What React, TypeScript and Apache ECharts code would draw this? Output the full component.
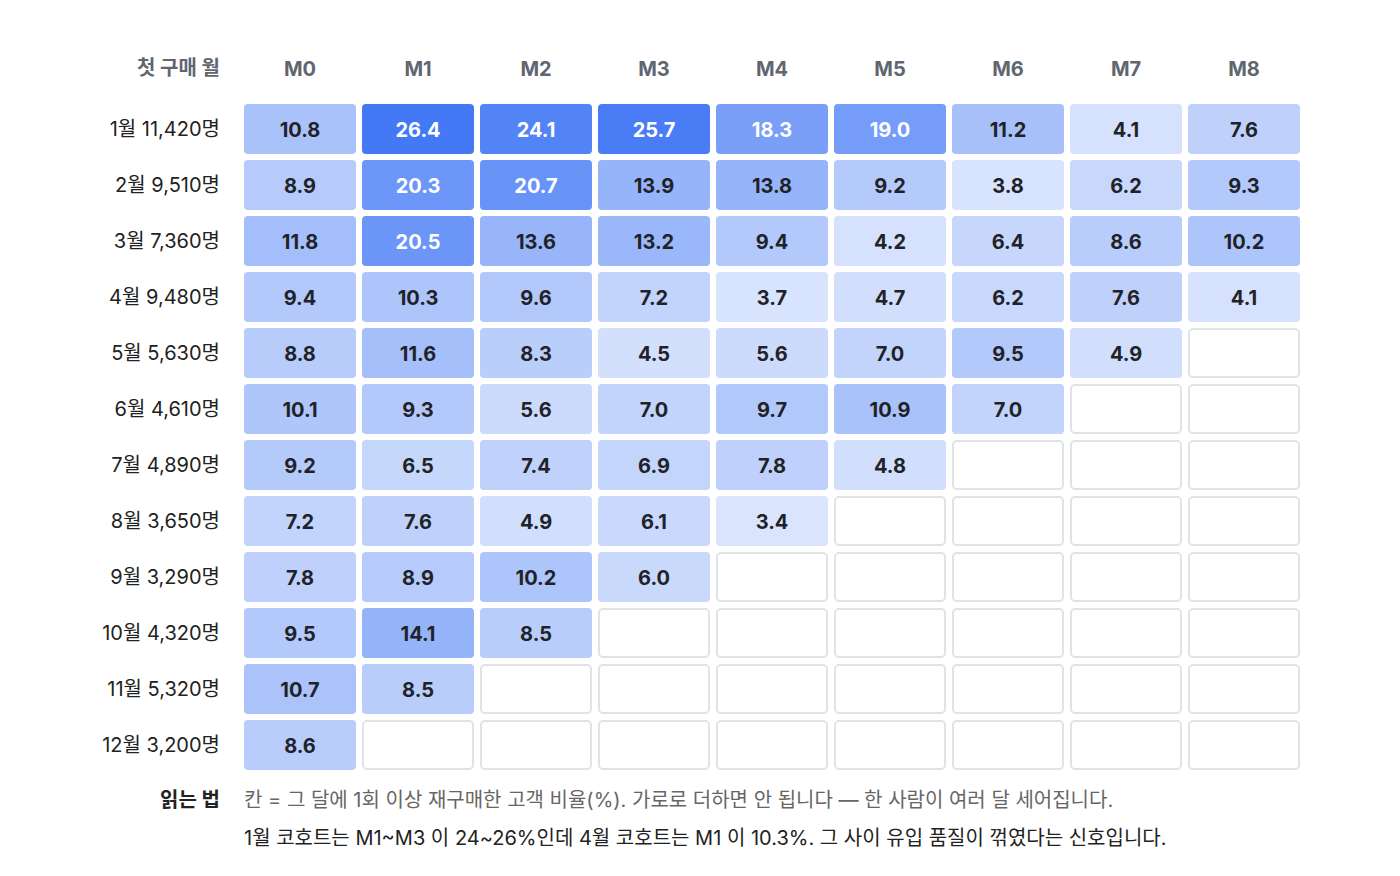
import React, { useEffect, useRef } from "react";
import * as echarts from "echarts";

const months = ["M0", "M1", "M2", "M3", "M4", "M5", "M6", "M7", "M8"];

const cohorts = ["1월", "2월", "3월", "4월", "5월", "6월", "7월", "8월", "9월", "10월", "11월", "12월"];
const cohortSizes = [11420, 9510, 7360, 9480, 5630, 4610, 4890, 3650, 3290, 4320, 5320, 3200];

// retention % per cohort, M0..M8 (shorter rows = months not yet observed)
const retention = [
  [10.8, 26.4, 24.1, 25.7, 18.3, 19.0, 11.2, 4.1, 7.6],
  [8.9, 20.3, 20.7, 13.9, 13.8, 9.2, 3.8, 6.2, 9.3],
  [11.8, 20.5, 13.6, 13.2, 9.4, 4.2, 6.4, 8.6, 10.2],
  [9.4, 10.3, 9.6, 7.2, 3.7, 4.7, 6.2, 7.6, 4.1],
  [8.8, 11.6, 8.3, 4.5, 5.6, 7.0, 9.5, 4.9],
  [10.1, 9.3, 5.6, 7.0, 9.7, 10.9, 7.0],
  [9.2, 6.5, 7.4, 6.9, 7.8, 4.8],
  [7.2, 7.6, 4.9, 6.1, 3.4],
  [7.8, 8.9, 10.2, 6.0],
  [9.5, 14.1, 8.5],
  [10.7, 8.5],
  [8.6],
];

const FONT = "Inter, 'Noto Sans CJK KR', sans-serif";

export default function App() {
  const chartRef = useRef<HTMLDivElement>(null);

  useEffect(() => {
    const chart = echarts.init(chartRef.current!, null, { renderer: "svg" });

    const rowLabels = cohorts.map((c, i) => `${c} ${cohortSizes[i].toLocaleString("en-US")}명`);

    const filled: number[][] = [];
    const empty: number[][] = [];
    retention.forEach((row, r) => {
      months.forEach((_, c) => {
        if (c < row.length) filled.push([c, r, row[c]]);
        else empty.push([c, r]);
      });
    });

    const cellRect = (api: any, gap: number) => {
      const p = api.coord([api.value(0), api.value(1)]);
      const s = api.size([1, 1]);
      const w = s[0] - gap;
      const h = s[1] - gap;
      return { x: p[0] - w / 2, y: p[1] - h / 2, width: w, height: h, r: 4 };
    };

    chart.setOption({
      animation: false,
      textStyle: { fontFamily: FONT },
      grid: { left: 241, right: 97, top: 101, height: 672 },
      xAxis: {
        type: "category",
        data: months,
        position: "top",
        axisLine: { show: false },
        axisTick: { show: false },
        splitLine: { show: false },
        axisLabel: { color: "#5f6670", fontSize: 20, fontWeight: "bold", margin: 22, fontFamily: FONT },
      },
      yAxis: {
        type: "category",
        data: rowLabels,
        inverse: true,
        axisLine: { show: false },
        axisTick: { show: false },
        splitLine: { show: false },
        axisLabel: { color: "#222", fontSize: 20, margin: 21, fontFamily: FONT, padding: [5, 0, 0, 0] },
      },
      visualMap: {
        show: false,
        seriesIndex: 0,
        dimension: 2,
        min: 3,
        max: 26.4,
        inRange: { color: ["#dde7fd", "#4479f5"] },
      },
      graphic: [
        {
          type: "text",
          x: 220,
          y: 68,
          style: {
            text: "첫 구매 월",
            fill: "#5f6670",
            font: `bold 20px ${FONT}`,
            textAlign: "right",
            textVerticalAlign: "middle",
          },
        },
        {
          type: "text",
          x: 220,
          y: 800,
          style: {
            text: "읽는 법",
            fill: "#222",
            font: `bold 20px ${FONT}`,
            textAlign: "right",
            textVerticalAlign: "middle",
          },
        },
        {
          type: "text",
          x: 244,
          y: 800,
          style: {
            text: "칸 = 그 달에 1회 이상 재구매한 고객 비율(%). 가로로 더하면 안 됩니다 — 한 사람이 여러 달 세어집니다.",
            fill: "#666",
            font: `20px ${FONT}`,
            textVerticalAlign: "middle",
          },
        },
        {
          type: "text",
          x: 244,
          y: 838,
          style: {
            text: "1월 코호트는 M1~M3 이 24~26%인데 4월 코호트는 M1 이 10.3%. 그 사이 유입 품질이 꺾였다는 신호입니다.",
            fill: "#222",
            font: `20px ${FONT}`,
            textVerticalAlign: "middle",
          },
        },
      ],
      series: [
        {
          type: "custom",
          data: filled,
          encode: { x: 0, y: 1 },
          renderItem: (_params: any, api: any) => {
            const v = api.value(2);
            const shape = cellRect(api, 6);
            return {
              type: "group",
              children: [
                { type: "rect", shape, style: { fill: api.visual("color") } },
                {
                  type: "text",
                  x: shape.x + shape.width / 2,
                  y: shape.y + shape.height / 2 + 1,
                  style: {
                    text: v.toFixed(1),
                    fill: v >= 15 ? "#ffffff" : "#1f2328",
                    font: `bold 20px ${FONT}`,
                    textAlign: "center",
                    textVerticalAlign: "middle",
                  },
                },
              ],
            };
          },
        },
        {
          type: "custom",
          data: empty,
          encode: { x: 0, y: 1 },
          renderItem: (_params: any, api: any) => {
            const shape = cellRect(api, 8);
            return {
              type: "rect",
              shape,
              style: { fill: "#ffffff", stroke: "#dfe3e8", lineWidth: 2 },
            };
          },
        },
      ],
    });

    return () => {
      chart.dispose();
    };
  }, []);

  return (
    <div
      ref={chartRef}
      style={{ position: "absolute", left: 0, top: 0, width: 1400, height: 876, background: "#fff" }}
    />
  );
}
